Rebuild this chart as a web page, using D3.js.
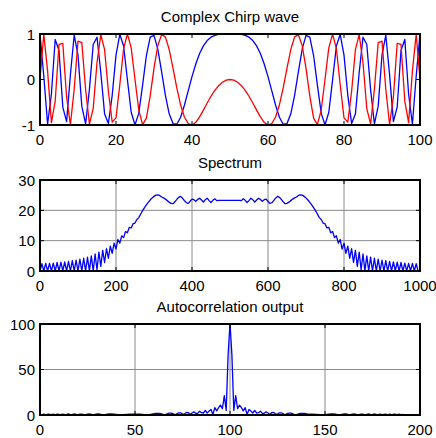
<!DOCTYPE html>
<html>
<head>
<meta charset="utf-8">
<script src="https://cdnjs.cloudflare.com/ajax/libs/d3/7.8.5/d3.min.js"></script>
<style>
  body { margin: 0; background: #fff; }
  text { font-family: "Liberation Sans", Arial, sans-serif; fill: #000; }
</style>
</head>
<body>
<div id="fig"></div>
<script>
// ---- data ----
// chirp, samples 0..100 : real part (blue) and imaginary part (red)
var chirpRe = [1, 0.078, -0.983, -0.319, 0.881, 0.637, -0.606, -0.925, 0.103, 0.977,
  0.536, -0.586, -0.977, -0.222, 0.769, 0.930, 0.153, -0.756, -0.965, -0.347,
  0.536, 0.993, 0.737, -0.003, -0.719, -1, -0.740, -0.123, 0.527, 0.933,
  0.969, 0.669, 0.172, -0.348, -0.753, -0.969, -0.983, -0.829, -0.565, -0.251,
  0.063, 0.342, 0.570, 0.739, 0.856, 0.930, 0.971, 0.991, 0.998, 1.000,
  1,
  1.000, 0.998, 0.991, 0.971, 0.930, 0.856, 0.739, 0.570, 0.342, 0.063,
  -0.251, -0.565, -0.829, -0.983, -0.969, -0.753, -0.348, 0.172, 0.669, 0.969,
  0.933, 0.527, -0.123, -0.740, -1, -0.719, -0.003, 0.737, 0.993, 0.536,
  -0.347, -0.965, -0.756, 0.153, 0.930, 0.769, -0.222, -0.977, -0.586, 0.536,
  0.977, 0.103, -0.925, -0.606, 0.637, 0.881, -0.319, -0.983, 0.078, 1];
var chirpIm = [0, 0.997, 0.185, -0.948, -0.473, 0.771, 0.796, -0.383, -0.995, -0.214,
  0.844, 0.810, -0.215, -0.975, -0.639, 0.368, 0.988, 0.655, -0.264, -0.938,
  -0.844, -0.115, 0.677, 1.000, 0.696, 0, -0.674, -0.992, -0.850, -0.359,
  0.249, 0.744, 0.985, 0.937, 0.658, 0.249, -0.185, -0.559, -0.825, -0.968,
  -0.998, -0.940, -0.822, -0.674, -0.517, -0.368, -0.239, -0.135, -0.060, -0.015,
  0,
  -0.015, -0.060, -0.135, -0.239, -0.368, -0.517, -0.674, -0.822, -0.940, -0.998,
  -0.968, -0.825, -0.559, -0.185, 0.249, 0.658, 0.937, 0.985, 0.744, 0.249,
  -0.359, -0.850, -0.992, -0.674, 0, 0.696, 1.000, 0.677, -0.115, -0.844,
  -0.938, -0.264, 0.655, 0.988, 0.368, -0.639, -0.975, -0.215, 0.810, 0.844,
  -0.214, -0.995, -0.383, 0.796, 0.771, -0.473, -0.948, 0.185, 0.997, 0];

// spectrum magnitude, every 5th bin from 0 to 1000
var specStep = 5;
var spectrum = [0, 2.4, 0, 2.5, 0, 2.5, 0, 2.6, 0, 2.8,
  0, 2.9, 0, 3.0, 0, 3.2, 0, 3.4, 0, 3.6,
  0, 3.9, 0, 4.2, 0, 4.6, 0, 5.0, 0, 5.6,
  0.4, 6.2, 1.5, 6.8, 2.8, 7.4, 4.2, 8.2, 5.8, 9.2,
  7.2, 10.4, 9.2, 11.6, 11.0, 13.0, 12.6, 14.4, 14.2, 15.6,
  15.8, 17.0, 17.6, 18.8, 19.9, 20.9, 21.8, 22.6, 23.4, 24.1,
  24.6, 25.0, 25.1, 24.9, 24.4, 24.1, 23.7, 23.2, 22.7, 22.3,
  22.2, 22.8, 23.6, 24.3, 24.6, 24.0, 23.2, 22.5, 22.3, 23.0,
  23.7, 23.5, 23.0, 23.6, 24.0, 23.4, 22.7, 23.5, 24.0, 23.2,
  22.6, 23.3, 23.8, 23.2, 23.3, 23.3, 23.3, 23.3, 23.3, 23.3,
  23.3,
  23.3, 23.3, 23.3, 23.3, 23.3, 23.2, 23.8, 23.3, 22.6, 23.2,
  24.0, 23.5, 22.7, 23.4, 24.0, 23.6, 23.0, 23.5, 23.7, 23.0,
  22.3, 22.5, 23.2, 24.0, 24.6, 24.3, 23.6, 22.8, 22.2, 22.3,
  22.7, 23.2, 23.7, 24.1, 24.4, 24.9, 25.1, 25.0, 24.6, 24.1,
  23.4, 22.6, 21.8, 20.9, 19.9, 18.8, 17.6, 17.0, 15.8, 15.6,
  14.2, 14.4, 12.6, 13.0, 11.0, 11.6, 9.2, 10.4, 7.2, 9.2,
  5.8, 8.2, 4.2, 7.4, 2.8, 6.8, 1.5, 6.2, 0.4, 5.6,
  0, 5.0, 0, 4.6, 0, 4.2, 0, 3.9, 0, 3.6,
  0, 3.4, 0, 3.2, 0, 3.0, 0, 2.9, 0, 2.8,
  0, 2.6, 0, 2.5, 0, 2.5, 0, 2.4, 0];

// autocorrelation magnitude, lags 0..200
var autocorr = [1.0, 0.2, 1.0, 0.4, 0.8, 0.8, 0.5, 1.0, 0.1, 0.9,
  0.7, 0.4, 1.0, 0.5, 0.6, 1.1, 0.5, 0.5, 1.1, 0.7,
  0.2, 1.0, 1.0, 0.4, 0.4, 1.0, 1.1, 0.6, 0.1, 0.7,
  1.1, 1.1, 0.8, 0.3, 0.3, 0.8, 1.1, 1.2, 1.2, 1.0,
  0.7, 0.4, 0.1, 0.2, 0.4, 0.6, 0.7, 0.9, 0.9, 1.0,
  1.0, 1.0, 0.9, 0.8, 0.7, 0.5, 0.2, 0.2, 0.6, 1.0,
  1.4, 1.7, 1.8, 1.7, 1.3, 0.5, 0.4, 1.4, 2.1, 2.1,
  1.5, 0.2, 1.4, 2.4, 2.4, 1.0, 1.1, 2.8, 2.7, 0.6,
  2.2, 3.5, 1.9, 1.8, 4.2, 2.5, 2.2, 5.1, 2.2, 4.3,
  6.1, 0.6, 8.1, 4.5, 8.1, 10.9, 6.9, 21.3, 5.1, 66,
  101,
  66, 5.1, 21.3, 6.9, 10.9, 8.1, 4.5, 8.1, 0.6, 6.1,
  4.3, 2.2, 5.1, 2.2, 2.5, 4.2, 1.8, 1.9, 3.5, 2.2,
  0.6, 2.7, 2.8, 1.1, 1.0, 2.4, 2.4, 1.4, 0.2, 1.5,
  2.1, 2.1, 1.4, 0.4, 0.5, 1.3, 1.7, 1.8, 1.7, 1.4,
  1.0, 0.9, 0.9, 0.8, 0.7, 0.6, 0.4, 0.2, 0.1, 0.4,
  0.7, 1.0, 1.2, 1.2, 1.1, 0.8, 0.3, 0.3, 0.8, 1.1,
  1.1, 0.7, 0.1, 0.6, 1.1, 1.0, 0.4, 0.4, 1.0, 1.0,
  0.2, 0.7, 1.1, 0.5, 0.5, 1.1, 0.6, 0.5, 1.0, 0.4,
  0.7, 0.9, 0.1, 1.0, 0.5, 0.8, 0.8, 0.4, 1.0, 0.2,
  1.0];

// tick values
var chirpXTicks = [0, 20, 40, 60, 80, 100];
var chirpYTicks = [-1, 0, 1];
var specXTicks = [0, 200, 400, 600, 800, 1000];
var specYTicks = [0, 10, 20, 30];
var corrXTicks = [0, 50, 100, 150, 200];
var corrYTicks = [0, 50, 100];

var svg = d3.select('#fig').append('svg').attr('width', 436).attr('height', 438);
svg.append('rect').attr('width', 436).attr('height', 438).attr('fill', '#fff');

var left = 40, right = 420;
var clipId = 0;

// one MATLAB style subplot
function subplot(o) {
  var x = d3.scaleLinear().domain(o.xDomain).range([left, right]);
  var y = d3.scaleLinear().domain(o.yDomain).range([o.bottom, o.top]);
  var g = svg.append('g');

  if (o.grid) {
    g.selectAll('.gx').data(o.xTicks.slice(1, -1)).enter().append('line')
      .attr('x1', function(d) { return x(d); }).attr('x2', function(d) { return x(d); })
      .attr('y1', o.top).attr('y2', o.bottom)
      .attr('stroke', '#8a8a8a').attr('stroke-width', 1);
    g.selectAll('.gy').data(o.yTicks.slice(1, -1)).enter().append('line')
      .attr('x1', left).attr('x2', right)
      .attr('y1', function(d) { return y(d); }).attr('y2', function(d) { return y(d); })
      .attr('stroke', '#8a8a8a').attr('stroke-width', 1);
  }

  clipId++;
  svg.append('clipPath').attr('id', 'clip' + clipId).append('rect')
    .attr('x', left).attr('y', o.top).attr('width', right - left).attr('height', o.bottom - o.top);

  o.series.forEach(function(s) {
    var line = d3.line()
      .x(function(d, i) { return x(i * s.step); })
      .y(function(d) { return y(d); });
    g.append('path').datum(s.values)
      .attr('clip-path', 'url(#clip' + clipId + ')')
      .attr('d', line)
      .attr('fill', 'none')
      .attr('stroke', s.color)
      .attr('stroke-width', 1.3)
      .attr('stroke-linejoin', 'round');
  });

  // box
  g.append('rect').attr('x', left).attr('y', o.top)
    .attr('width', right - left).attr('height', o.bottom - o.top)
    .attr('fill', 'none').attr('stroke', '#000').attr('stroke-width', 2);

  // inward ticks
  var tl = 4;
  o.xTicks.forEach(function(t) {
    g.append('line').attr('x1', x(t)).attr('x2', x(t)).attr('y1', o.bottom).attr('y2', o.bottom - tl).attr('stroke', '#000');
    g.append('line').attr('x1', x(t)).attr('x2', x(t)).attr('y1', o.top).attr('y2', o.top + tl).attr('stroke', '#000');
  });
  o.yTicks.forEach(function(t) {
    g.append('line').attr('x1', left).attr('x2', left + tl).attr('y1', y(t)).attr('y2', y(t)).attr('stroke', '#000');
    g.append('line').attr('x1', right).attr('x2', right - tl).attr('y1', y(t)).attr('y2', y(t)).attr('stroke', '#000');
  });

  // tick labels
  g.selectAll('.xl').data(o.xTicks).enter().append('text')
    .attr('x', function(d) { return x(d); }).attr('y', o.bottom + 20)
    .attr('text-anchor', 'middle').attr('font-size', 15)
    .text(function(d) { return d; });
  g.selectAll('.yl').data(o.yTicks).enter().append('text')
    .attr('x', left - 5).attr('y', function(d) { return y(d) + 5.5; })
    .attr('text-anchor', 'end').attr('font-size', 15)
    .text(function(d) { return d; });

  // title
  g.append('text').attr('x', (left + right) / 2).attr('y', o.top - 12)
    .attr('text-anchor', 'middle').attr('font-size', 15)
    .text(o.title);
}

subplot({
  top: 34, bottom: 125, xDomain: [0, 100], yDomain: [-1, 1],
  xTicks: chirpXTicks, yTicks: chirpYTicks, grid: false,
  title: 'Complex Chirp wave',
  series: [
    {values: chirpRe, step: 1, color: '#0000ff'},
    {values: chirpIm, step: 1, color: '#ff0000'}
  ]
});

subplot({
  top: 180, bottom: 271, xDomain: [0, 1000], yDomain: [0, 30],
  xTicks: specXTicks, yTicks: specYTicks, grid: true,
  title: 'Spectrum',
  series: [{values: spectrum, step: specStep, color: '#0000ff'}]
});

subplot({
  top: 324, bottom: 415, xDomain: [0, 200], yDomain: [0, 100],
  xTicks: corrXTicks, yTicks: corrYTicks, grid: true,
  title: 'Autocorrelation output',
  series: [{values: autocorr, step: 1, color: '#0000ff'}]
});
</script>
</body>
</html>
